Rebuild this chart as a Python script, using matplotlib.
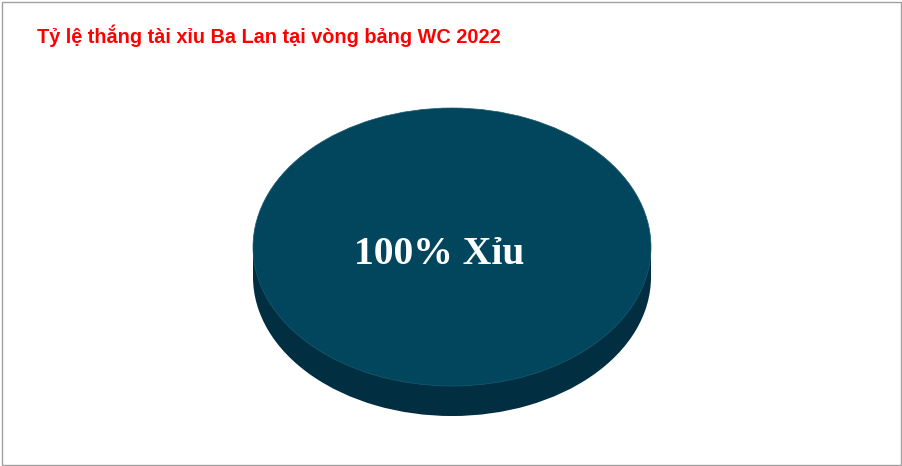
import matplotlib.pyplot as plt
from matplotlib.patches import Rectangle

# chart data
title = 'Tỷ lệ thắng tài xỉu Ba Lan tại vòng bảng WC 2022'
labels = ['Xỉu']
values = [100]

top_color = '#02465E'
side_color = '#012F41'
depth = 0.216  # thickness of the 3d disc, in y radius units

fig = plt.figure(figsize=(9.02, 4.66), dpi=100)
fig.patch.set_facecolor('white')

# axes over the whole figure; radius 1 = 199 px wide, 139 px tall
ax = fig.add_axes([0, 0, 1, 1])

# side of the disc: bottom ellipse plus the band up to the top ellipse
ax.pie(values, colors=[side_color], startangle=90, center=(0, -depth),
       wedgeprops=dict(linewidth=0))
ax.fill_between([-1, 1], -depth, 0, color=side_color, linewidth=0)

# top face
ax.pie(values, colors=[top_color], startangle=90,
       wedgeprops=dict(edgecolor='#1D5A70', linewidth=0.5))

ax.set_aspect('auto')
ax.set_xlim(-452 / 199, (902 - 452) / 199)
ax.set_ylim(-219 / 139, (466 - 219) / 139)
ax.axis('off')

ax.text(-0.065, -0.055, f'{values[0]}% {labels[0]}', color='white',
        fontsize=28.5, fontweight='bold', family='Liberation Serif',
        ha='center', va='center')

fig.text(37 / 902, 1 - 36 / 466, title, color='#FF0000', fontsize=14.3,
         fontweight='bold', family='Liberation Sans', ha='left', va='center')

# frame around the chart
fig.patches.append(Rectangle((1.5 / 902, 1.5 / 466), 899.5 / 902, 463 / 466,
                             transform=fig.transFigure, fill=False,
                             edgecolor='#A0A0A0', linewidth=1))

plt.savefig('out.png', dpi=100)
